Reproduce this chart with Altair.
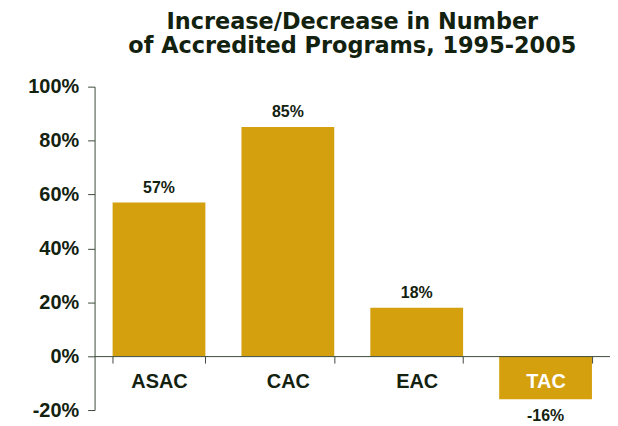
import altair as alt
import pandas as pd

categories = ["ASAC", "CAC", "EAC", "TAC"]
values = [57, 85, 18, -16]
y_ticks = [-20, 0, 20, 40, 60, 80, 100]

df = pd.DataFrame({"program": categories, "value": values})

TEXT = "#13220f"
AXIS = "#3d4a3a"
GOLD = "#D4A00E"

base = alt.Chart(df).transform_calculate(label="datum.value + '%'")

x = alt.X(
    "program:N",
    sort=categories,
    title=None,
    scale=alt.Scale(paddingInner=0.28, paddingOuter=0.14),
    axis=alt.Axis(
        orient="bottom",
        offset=-54.2,
        tickBand="extent",
        labelAngle=0,
        labelFont="Liberation Sans",
        labelFontSize=20,
        labelFontWeight="bold",
        labelColor=alt.condition("datum.value == 'TAC'", alt.value("white"), alt.value(TEXT)),
        labelPadding=9,
        tickSize=7,
        tickColor=AXIS,
        domainColor=AXIS,
        zindex=2,
    ),
)

y = alt.Y(
    "value:Q",
    title=None,
    scale=alt.Scale(domain=[-20, 100], nice=False),
    axis=alt.Axis(
        values=y_ticks,
        labelExpr="datum.value + '%'",
        labelFont="Liberation Sans",
        labelFontSize=20,
        labelFontWeight="bold",
        labelColor=TEXT,
        labelPadding=9,
        tickSize=7,
        tickColor=AXIS,
        domainColor=AXIS,
        grid=False,
        zindex=2,
    ),
)

bars = base.mark_bar(color=GOLD).encode(x=x, y=y)

pos_text = base.transform_filter("datum.value >= 0").mark_text(
    font="Liberation Sans", fontSize=16, fontWeight="bold", color=TEXT,
    baseline="alphabetic", dy=-10
).encode(x=alt.X("program:N", sort=categories), y="value:Q", text="label:N")

neg_text = base.transform_filter("datum.value < 0").mark_text(
    font="Liberation Sans", fontSize=16, fontWeight="bold", color=TEXT,
    baseline="top", dy=9
).encode(x=alt.X("program:N", sort=categories), y="value:Q", text="label:N")

chart = alt.layer(bars, pos_text, neg_text).properties(
    width=518,
    height=325,
    autosize=alt.AutoSizeParams(type="none"),
    padding={"left": 87, "top": 78, "right": 0, "bottom": 14},
    title=alt.TitleParams(
        text=["Increase/Decrease in Number", "of Accredited Programs, 1995-2005"],
        font="DejaVu Sans",
        fontSize=22.5,
        fontWeight="bold",
        color=TEXT,
        anchor="middle",
        frame="group",
        lineHeight=24,
        offset=19,
    ),
).configure_view(stroke=None)

chart.save("out.html", embed_options={"renderer": "svg", "actions": False})
